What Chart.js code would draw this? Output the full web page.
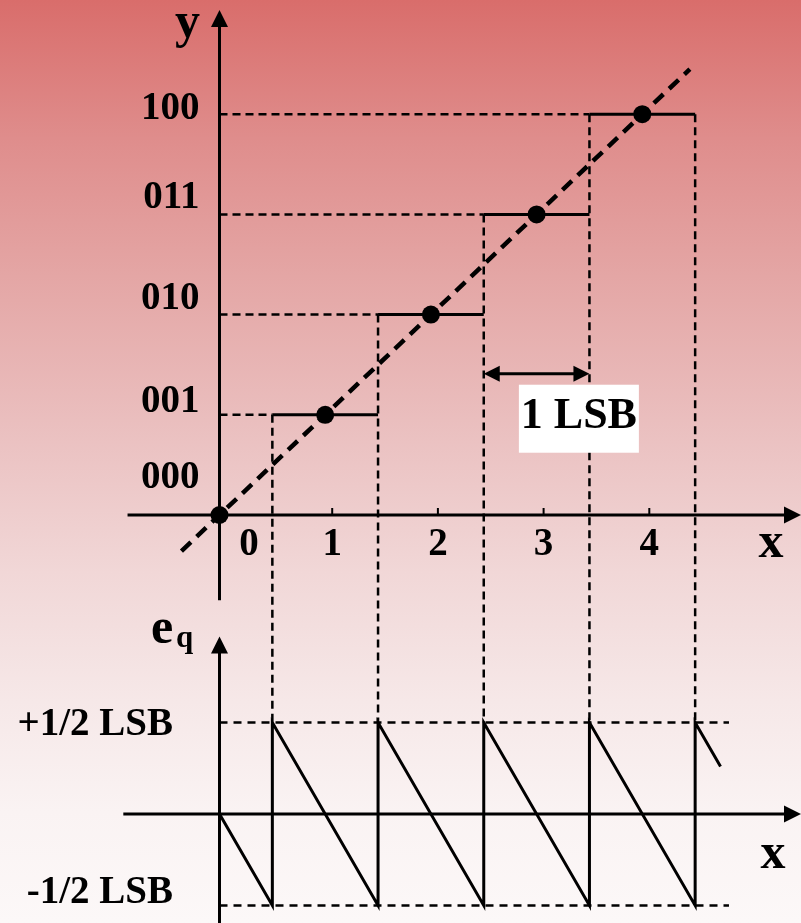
<!DOCTYPE html>
<html><head><meta charset="utf-8">
<script src="https://cdn.jsdelivr.net/npm/chart.js@4"></script>
<style>
html,body{margin:0;padding:0;}
body{width:801px;height:923px;overflow:hidden;
 background:linear-gradient(to bottom,#d96d6b 0%,#df8d8c 15%,#e4a6a5 30%,#ebc2c2 48%,#f1d7d7 62%,#f6e8e8 76%,#faf3f3 88%,#fcf8f8 100%);}
#wrap{position:absolute;left:0;top:0;width:801px;height:923px;}
</style></head><body><div id="wrap"><canvas id="c"></canvas></div>
<script>
// ---- data (in LSB units) ----
const codeLevels = [0, 1, 2, 3, 4];
const codeLabels = ['000', '001', '010', '011', '100'];
const xTickValues = [0, 1, 2, 3, 4];
const xTickLabels = ['0', '1', '2', '3', '4'];
const sampleX = [0, 1, 2, 3, 4];
const sampleY = [0, 1, 2, 3, 4];
const stepLevel = [1, 2, 3, 4];
const stepStart = [0.5, 1.5, 2.5, 3.5];
const stepEnd = [1.5, 2.5, 3.5, 4.5];
const transitions = [0.5, 1.5, 2.5, 3.5, 4.5];
const connectorTop = [1, 2, 3, 4, 4];
const idealX = [-0.36, 4.45];
const idealY = [-0.36, 4.45];
const errX = [0, 0.5, 0.5, 1.5, 1.5, 2.5, 2.5, 3.5, 3.5, 4.5, 4.5, 4.74];
const errY = [0, -0.5, 0.5, -0.5, 0.5, -0.5, 0.5, -0.5, 0.5, -0.5, 0.5, 0.26];
const errBounds = [0.5, -0.5];
const errBoundLabels = ['+1/2 LSB', '-1/2 LSB'];
const errBoundEnd = 4.82;
const lsbSpan = [2.5, 3.5];
const lsbLabel = '1 LSB';

// ---- scale ranges (pixel mapping of the full 801x923 area) ----
const W = 801, H = 923;
const X0 = 219.5, XU = 105.7;      // x = 0 pixel, px per LSB
const Y0 = 515, YU = 100.2;        // top plot
const E0 = 814, EU = 183;          // bottom plot
const xMin = -X0 / XU, xMax = (W - X0) / XU;
const yMax = Y0 / YU, yMin = yMax - H / YU;
const eMax = E0 / EU, eMin = eMax - H / EU;

const BLACK = '#000';
const SERIF = '"Liberation Serif","Times New Roman",serif';

const pts = (xs, ys) => xs.map((v, i) => ({x: v, y: ys[i]}));
const datasets = [];
datasets.push({label: 'samples', data: pts(sampleX, sampleY), showLine: false,
  pointRadius: 9, pointBackgroundColor: BLACK, pointBorderWidth: 0});
stepLevel.forEach((lv, i) => {
  datasets.push({label: 'step' + lv, data: [{x: stepStart[i], y: lv}, {x: stepEnd[i], y: lv}],
    showLine: true, borderColor: BLACK, borderWidth: 3, pointRadius: 0});
  datasets.push({label: 'guide' + lv, data: [{x: 0, y: lv}, {x: stepStart[i], y: lv}],
    showLine: true, borderColor: BLACK, borderWidth: 2.5, borderDash: [8, 5], pointRadius: 0});
});
datasets.push({label: 'ideal', data: pts(idealX, idealY), showLine: true,
  borderColor: BLACK, borderWidth: 4.5, borderDash: [13, 8], pointRadius: 0});
datasets.push({label: 'error', data: pts(errX, errY), yAxisID: 'y2', showLine: true,
  borderColor: BLACK, borderWidth: 3, pointRadius: 0, tension: 0});
errBounds.forEach((b) => {
  datasets.push({label: 'bound', data: [{x: 0, y: b}, {x: errBoundEnd, y: b}], yAxisID: 'y2',
    showLine: true, borderColor: BLACK, borderWidth: 2.5, borderDash: [8, 6], pointRadius: 0});
});

function seg(ctx, x1, y1, x2, y2) { ctx.beginPath(); ctx.moveTo(x1, y1); ctx.lineTo(x2, y2); ctx.stroke(); }
function head(ctx, tx, ty, dir, len, half) {
  ctx.beginPath();
  if (dir === 'up') { ctx.moveTo(tx, ty); ctx.lineTo(tx - half, ty + len); ctx.lineTo(tx + half, ty + len); }
  if (dir === 'right') { ctx.moveTo(tx, ty); ctx.lineTo(tx - len, ty - half); ctx.lineTo(tx - len, ty + half); }
  if (dir === 'left') { ctx.moveTo(tx, ty); ctx.lineTo(tx + len, ty - half); ctx.lineTo(tx + len, ty + half); }
  ctx.closePath(); ctx.fill();
}

const deco = {
  id: 'deco',
  beforeDatasetsDraw(chart) {
    const {ctx} = chart; const {x, y, y2} = chart.scales;
    ctx.save();
    ctx.strokeStyle = BLACK; ctx.fillStyle = BLACK;
    // vertical connectors between the two plots
    ctx.lineWidth = 2.5; ctx.setLineDash([8, 5]);
    transitions.forEach((t, i) => {
      const px = x.getPixelForValue(t);
      seg(ctx, px, y.getPixelForValue(connectorTop[i]), px, y2.getPixelForValue(errBounds[0]));
    });
    ctx.setLineDash([]);
    ctx.lineWidth = 3;
    // top plot axes
    const ax = x.getPixelForValue(0), ay = y.getPixelForValue(0);
    const yTip = y.getPixelForValue(5.04);
    seg(ctx, ax, y.getPixelForValue(-0.85), ax, yTip + 14);
    head(ctx, ax, yTip, 'up', 17, 8.5);
    const xTip = x.getPixelForValue(xMax);
    seg(ctx, x.getPixelForValue(-0.87), ay, xTip - 14, ay);
    head(ctx, xTip, ay, 'right', 17, 8.5);
    ctx.lineWidth = 2;
    xTickValues.slice(1).forEach(v => { const p = x.getPixelForValue(v) + 7; seg(ctx, p, ay, p, ay - 7); });
    // bottom plot axes
    ctx.lineWidth = 3;
    const ex = x.getPixelForValue(0), ey = y2.getPixelForValue(0);
    const eTip = y2.getPixelForValue(0.97);
    seg(ctx, ex, y2.getPixelForValue(eMin), ex, eTip + 14);
    head(ctx, ex, eTip, 'up', 17, 8.5);
    seg(ctx, x.getPixelForValue(-0.91), ey, xTip - 14, ey);
    head(ctx, xTip, ey, 'right', 17, 8.5);
    ctx.restore();
  },
  afterDatasetsDraw(chart) {
    const {ctx} = chart; const {x, y, y2} = chart.scales;
    ctx.save();
    ctx.fillStyle = BLACK; ctx.strokeStyle = BLACK;
    const ax = x.getPixelForValue(0), ay = y.getPixelForValue(0);
    // code labels
    ctx.font = 'bold 39px ' + SERIF; ctx.textAlign = 'right'; ctx.textBaseline = 'middle';
    const codeOff = [-37, -13, -16, -16, -5];
    codeLevels.forEach((lv, i) => ctx.fillText(codeLabels[i], ax - 20, y.getPixelForValue(lv) + codeOff[i]));
    // x tick labels
    ctx.textAlign = 'center';
    xTickValues.forEach((v, i) => {
      const px = v === 0 ? x.getPixelForValue(0.28) : x.getPixelForValue(v) + 7;
      ctx.fillText(xTickLabels[i], px, ay + 30);
    });
    // axis names
    ctx.font = 'bold 50px ' + SERIF; ctx.textBaseline = 'alphabetic';
    ctx.fillText('y', ax - 32, 37);
    ctx.fillText('x', 771, ay + 42);
    ctx.fillText('x', 773, y2.getPixelForValue(0) + 54);
    ctx.textAlign = 'left';
    ctx.fillText('e', 151, 643);
    ctx.font = 'bold 31px ' + SERIF;
    ctx.fillText('q', 176, 647);
    // error bound labels
    ctx.font = 'bold 39px ' + SERIF; ctx.textAlign = 'right'; ctx.textBaseline = 'middle';
    errBounds.forEach((b, i) => ctx.fillText(errBoundLabels[i], 173, y2.getPixelForValue(b) + (i === 0 ? 2 : -13)));
    // 1 LSB dimension arrow
    const l = x.getPixelForValue(lsbSpan[0]), r = x.getPixelForValue(lsbSpan[1]);
    const dy = y.getPixelForValue(1.41);
    ctx.lineWidth = 3;
    seg(ctx, l + 12, dy, r - 12, dy);
    head(ctx, l, dy, 'left', 16, 8);
    head(ctx, r, dy, 'right', 16, 8);
    const bc = x.getPixelForValue(3.4);
    ctx.fillStyle = '#fff';
    ctx.fillRect(bc - 60, dy + 11, 120, 68);
    ctx.fillStyle = BLACK;
    ctx.font = 'bold 44px ' + SERIF; ctx.textAlign = 'center'; ctx.textBaseline = 'alphabetic';
    ctx.fillText(lsbLabel, bc, dy + 54);
    ctx.restore();
  }
};

new Chart(document.getElementById('c'), {
  type: 'scatter',
  data: {datasets},
  options: {
    responsive: true, maintainAspectRatio: false, animation: false, events: [],
    layout: {padding: 0, autoPadding: false},
    plugins: {legend: {display: false}, tooltip: {enabled: false}, title: {display: false}},
    scales: {
      x: {type: 'linear', min: xMin, max: xMax, bounds: 'data', display: false},
      y: {type: 'linear', min: yMin, max: yMax, bounds: 'data', display: false},
      y2: {type: 'linear', min: eMin, max: eMax, bounds: 'data', display: false}
    }
  },
  plugins: [deco]
});
</script></body></html>
